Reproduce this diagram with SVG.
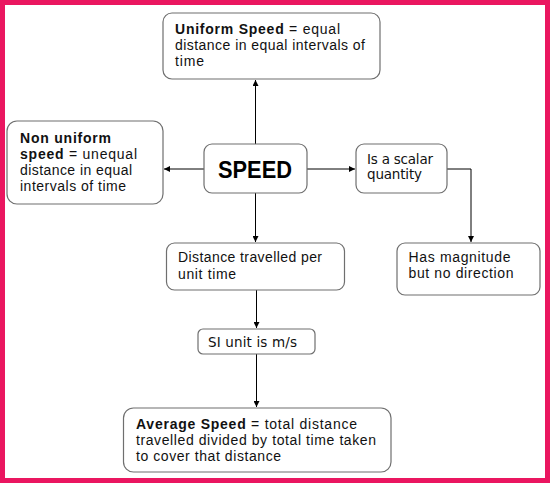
<svg xmlns="http://www.w3.org/2000/svg" width="550" height="483" viewBox="0 0 550 483">
<defs>
<marker id="ah" viewBox="0 0 10 10" refX="10" refY="5" markerWidth="6" markerHeight="6" markerUnits="userSpaceOnUse" orient="auto"><path d="M0,0 L10,5 L0,10 z" fill="#000"/></marker>
</defs>
<style>
.box{fill:#fff;stroke:#6f6f6f;stroke-width:1.2}
.t{font-family:"Liberation Sans",Arial,sans-serif;font-size:14px;fill:#111}
.v{font-family:"DejaVu Sans",Verdana,sans-serif;font-size:13.5px;fill:#111}
.b{font-weight:bold}
.c{fill:none;stroke:#000;stroke-width:1;marker-end:url(#ah)}
</style>
<rect x="0" y="0" width="550" height="483" fill="#fff"/>
<rect x="2.5" y="2.5" width="545" height="478" fill="none" stroke="#ea1660" stroke-width="5"/>
<g id="connectors">
<path class="c" d="M255.5,144 V80"/>
<path class="c" d="M204,169 H164"/>
<path class="c" d="M307,169 H355"/>
<path class="c" d="M447,169 H471 V242"/>
<path class="c" d="M255.5,193 V242"/>
<path class="c" d="M256.5,290 V328"/>
<path class="c" d="M256.5,354 V407"/>
</g>
<g id="uniform">
<rect class="box" x="163" y="13" width="217" height="66" rx="9"/>
<text class="t" x="175" y="34" textLength="165"><tspan class="b">Uniform Speed</tspan> = equal</text>
<text class="t" x="175" y="50" textLength="190">distance in equal intervals of</text>
<text class="t" x="175" y="66" textLength="29">time</text>
</g>
<g id="nonuniform">
<rect class="box" x="7" y="121" width="156" height="83" rx="10"/>
<text class="t b" x="20" y="143" textLength="91">Non uniform</text>
<text class="t" x="20" y="159" textLength="117"><tspan class="b">speed</tspan> = unequal</text>
<text class="t" x="20" y="175" textLength="112">distance in equal</text>
<text class="t" x="20" y="191" textLength="106">intervals of time</text>
</g>
<g id="speed">
<rect class="box" x="204" y="144" width="103" height="49" rx="8"/>
<text x="255" y="178" text-anchor="middle" font-family="'Liberation Sans',Arial,sans-serif" font-weight="bold" font-size="24" textLength="74" lengthAdjust="spacingAndGlyphs" fill="#000">SPEED</text>
</g>
<g id="scalar">
<rect class="box" x="356" y="144" width="91" height="49" rx="8"/>
<text class="v" x="367" y="164" textLength="66">Is a scalar</text>
<text class="v" x="367" y="179" textLength="55">quantity</text>
</g>
<g id="magnitude">
<rect class="box" x="397" y="243" width="143" height="52" rx="8"/>
<text class="t" x="408.5" y="262" textLength="102">Has magnitude</text>
<text class="t" x="408.5" y="278" textLength="105">but no direction</text>
</g>
<g id="distance">
<rect class="box" x="166.5" y="243" width="178" height="47" rx="8"/>
<text class="t" x="178" y="262" textLength="144">Distance travelled per</text>
<text class="t" x="178" y="279" textLength="58">unit time</text>
</g>
<g id="siunit">
<rect class="box" x="198" y="329" width="117" height="25" rx="5"/>
<text class="v" x="208" y="347" textLength="89">SI unit is m/s</text>
</g>
<g id="average">
<rect class="box" x="123.5" y="408" width="267.5" height="64" rx="10"/>
<text class="t" x="136" y="429" textLength="221"><tspan class="b">Average Speed</tspan> = total distance</text>
<text class="t" x="136" y="445" textLength="240">travelled divided by total time taken</text>
<text class="t" x="136" y="461" textLength="145">to cover that distance</text>
</g>
</svg>
